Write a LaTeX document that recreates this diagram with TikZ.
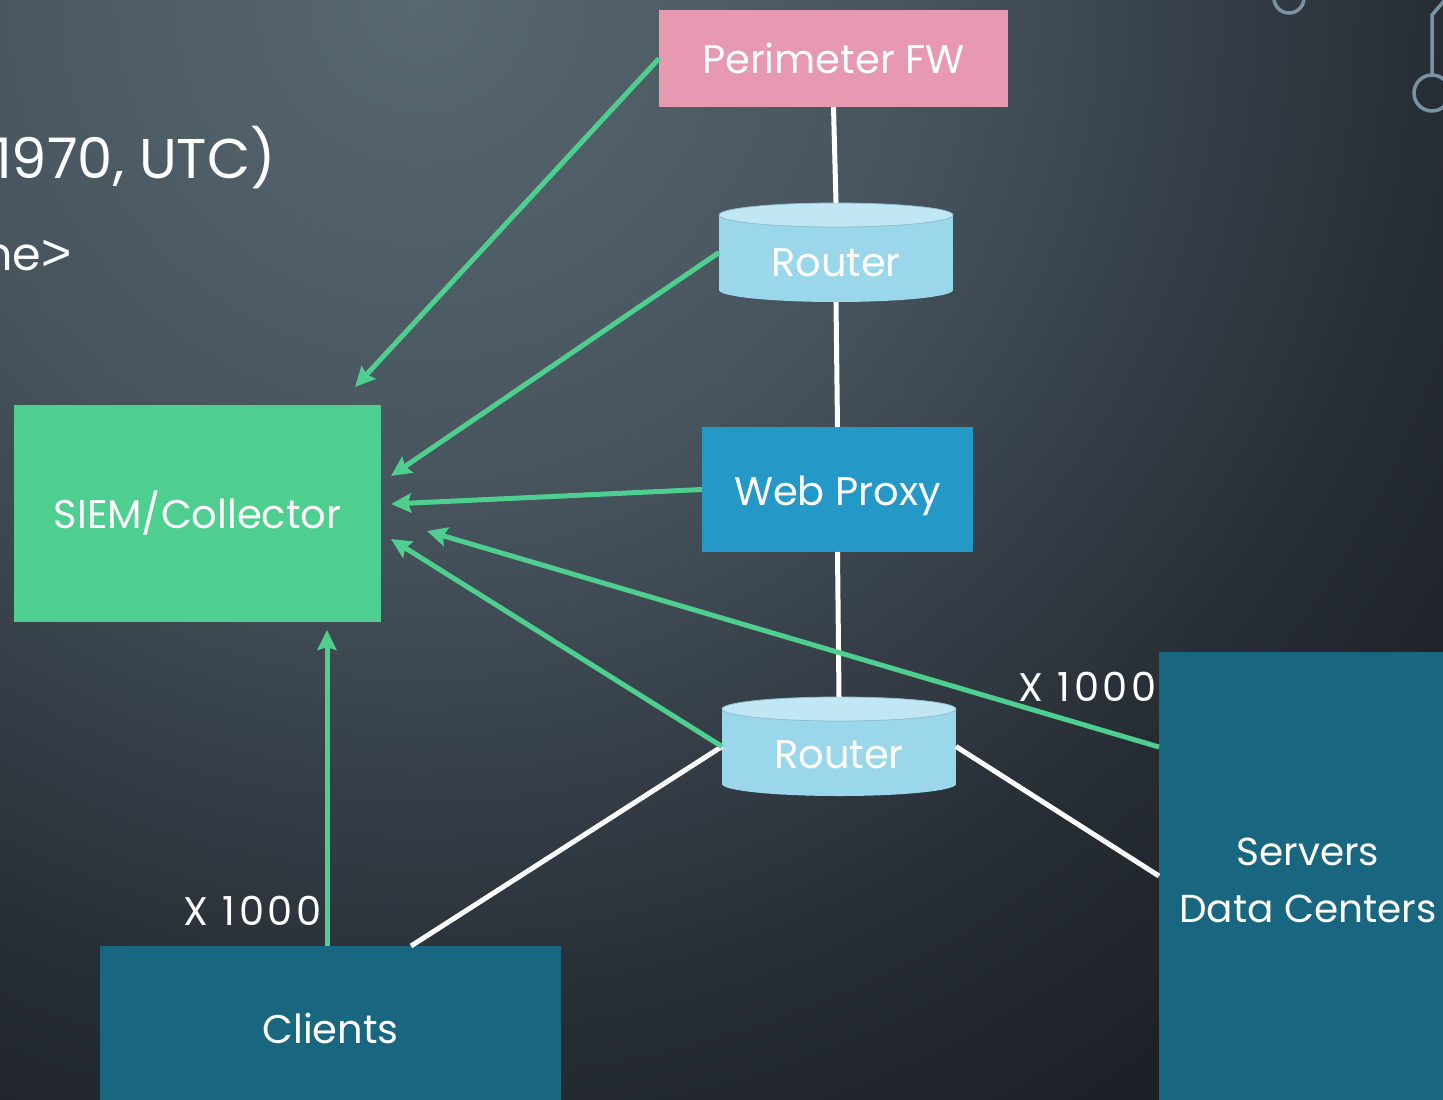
\documentclass[tikz,border=0pt]{standalone}
\usepackage{fontspec}
\setmainfont{Poppins}
\newfontfamily\gtfont{Liberation Sans}
\usetikzlibrary{arrows.meta,calc}
\definecolor{bgA}{HTML}{58686F}
\definecolor{bgB}{HTML}{47545E}
\definecolor{bgC}{HTML}{272D35}
\definecolor{bgD}{HTML}{131519}
\definecolor{deco}{HTML}{7A93A3}
\definecolor{pinkfw}{HTML}{E899B2}
\definecolor{cylbody}{HTML}{9AD7EB}
\definecolor{cyltop}{HTML}{C2E7F4}
\definecolor{cylline}{HTML}{8CBFD0}
\definecolor{proxy}{HTML}{2499C7}
\definecolor{siemg}{HTML}{4ECF8F}
\definecolor{teal}{HTML}{18667F}
\pgfdeclareradialshading{bgshade}{\pgfpoint{0bp}{0bp}}{color(0bp)=(bgA); color(8bp)=(bgB); color(16.5bp)=(bgC); color(25bp)=(bgD); color(50bp)=(bgD)}
\newcommand\drawcyl[1]{%
  \fill[cylbody] ($(#1.north west)+(0,12)$) rectangle ($(#1.south east)+(0,-12)$);
  \fill[cylbody] ($(#1.south)+(0,-12)$) ellipse[x radius=117pt, y radius=12pt];
  \fill[cyltop, draw=cylline, line width=0.8pt] ($(#1.north)+(0,12)$) ellipse[x radius=117pt, y radius=12pt];
}
\begin{document}
\begin{tikzpicture}[x=1pt,y=-1pt,
  lbl/.style={text=white, font=\fontsize{40}{57}\selectfont},
  boxnode/.style={lbl, inner sep=0pt, outer sep=0pt},
  cylnode/.style={lbl, inner sep=0pt, outer sep=0pt, minimum width=234pt, minimum height=99pt},
  wline/.style={white, line width=5pt},
  garrow/.style={siemg, line width=5pt, -{Stealth[length=20pt, width=19pt, inset=3pt]}},
  decoline/.style={deco, line width=3.5pt},
  mult/.style={lbl, anchor=base east, inner sep=0pt, font=\fontsize{40}{48}\selectfont\addfontfeature{LetterSpace=9}}]
\useasboundingbox (0,0) rectangle (1443,1100);
\begin{scope}
\clip (0,0) rectangle (1443,1100);
\shade[shading=bgshade] (420,0) circle (1550pt);
% decorations
\draw[decoline] (1289,-2) circle (15pt);
\draw[decoline] (1450,-6) -- (1432,15) -- (1432,75);
\draw[decoline] (1432,93) circle (18pt);
% slide text fragments
\node[anchor=base east, text=white, font=\fontsize{56}{64}\selectfont, inner sep=0pt] (txta) at (276,178) {1970, UTC)};
\node[anchor=base east, text=white, font=\fontsize{46}{52}\selectfont, inner sep=0pt] (txtb) at (72,270) {ne{\gtfont\fontsize{52}{56}\selectfont >}};
% nodes
\node[boxnode, fill=pinkfw, minimum width=349pt, minimum height=97pt] (pfw) at (833.5,58.5) {Perimeter FW};
\node[cylnode] (r1) at (836,252.5) {};
\drawcyl{r1}
\node[lbl, yshift=-10pt] at (r1) {Router};
\node[boxnode, fill=proxy, minimum width=271pt, minimum height=125pt] (wp) at (837.5,489.5) {};
\node[lbl, yshift=-6pt] at (wp) {Web Proxy};
\node[cylnode] (r2) at (839,746.5) {};
\drawcyl{r2}
\node[lbl, yshift=-8pt] at (r2) {Router};
\node[boxnode, fill=siemg, minimum width=367pt, minimum height=217pt] (siem) at (197.5,513.5) {SIEM/Collector};
\node[boxnode, fill=teal, minimum width=461pt, minimum height=164pt] (cl) at (330.5,1028) {Clients};
\node[boxnode, fill=teal, minimum width=298pt, minimum height=448pt] (srv) at (1308,876) {};
\node[lbl, align=center, yshift=-4pt, font=\fontsize{39}{57}\selectfont] at (srv) {Servers\\Data Centers};
% labels
\node[mult] (xa) at (322,925) {X 1000};
\node[mult] (xb) at (1157,701) {X 1000};
% coordinates
\coordinate (t1) at (355,387);
\coordinate (t2) at (391,476);
\coordinate (t3) at (391,504);
\coordinate (t4) at (427,531);
\coordinate (t5) at (391,539);
\coordinate (t6) at (327,630);
\coordinate (clw) at ($(cl.north)+(80.5,0)$);
\coordinate (clg) at ($(cl.north)+(-3.5,0)$);
\coordinate (srvg) at ($(srv.north west)+(0,95)$);
% white links
\draw[wline] (pfw.south) -- (r1.north);
\draw[wline] (r1.south) -- (wp.north);
\draw[wline] (wp.south) -- (r2.north);
\draw[wline] (r2.west) -- (clw);
\draw[wline] (r2.east) -- (srv.west);
% green arrows
\draw[garrow] (pfw.west) -- (t1);
\draw[garrow] (r1.west) -- (t2);
\draw[garrow] (wp.west) -- (t3);
\draw[garrow] (srvg) -- (t4);
\draw[garrow] (r2.west) -- (t5);
\draw[garrow] (clg) -- (t6);
\end{scope}
\end{tikzpicture}
\end{document}
